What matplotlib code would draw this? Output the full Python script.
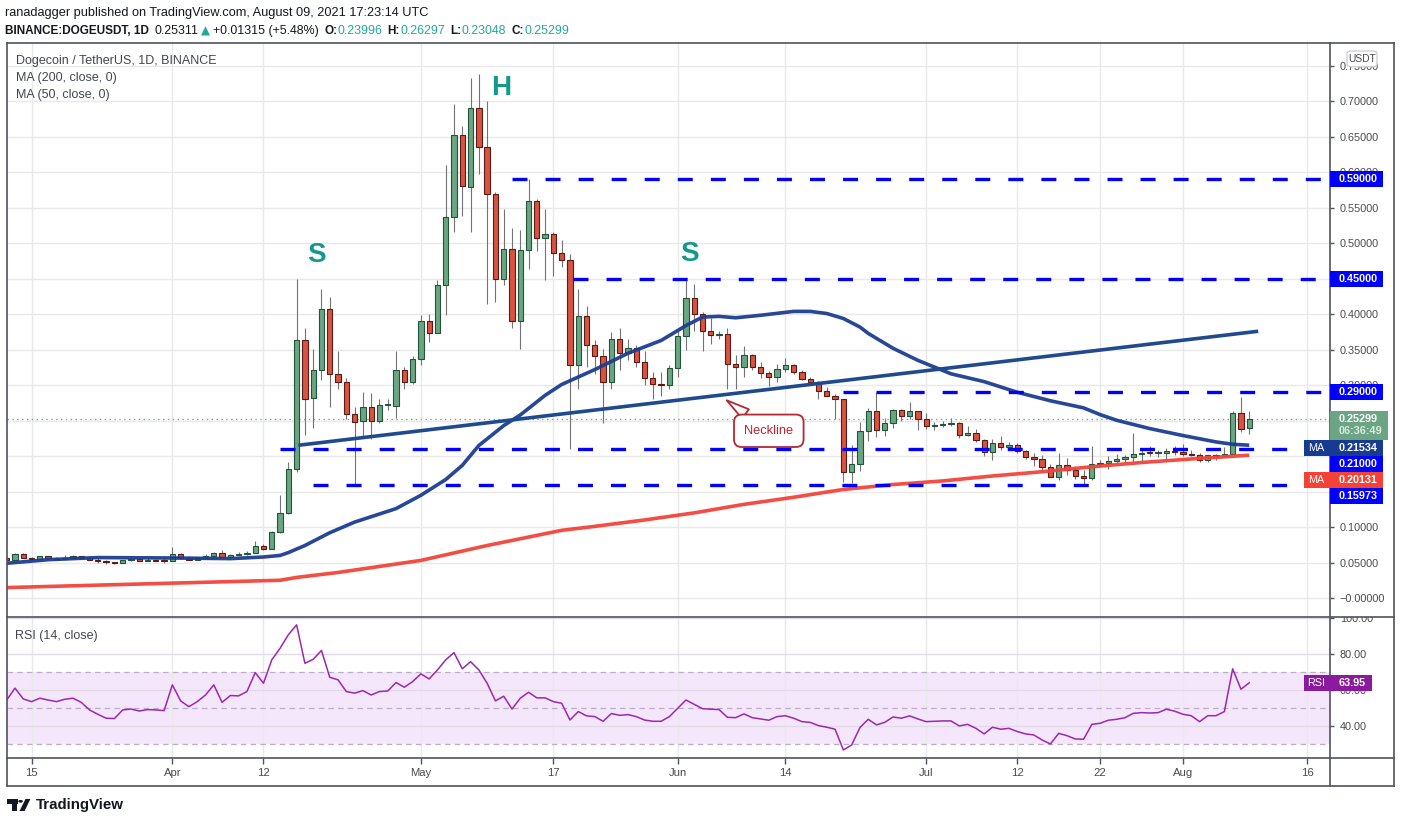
import numpy as np
import pandas as pd
import matplotlib
matplotlib.use('Agg')
import matplotlib.pyplot as plt
import matplotlib.dates as mdates
from matplotlib.patches import Rectangle, FancyBboxPatch, Polygon, Circle
from matplotlib.lines import Line2D

W, H = 1401, 823
BASE = ['Liberation Sans', 'DejaVu Sans']
plt.rcParams['font.family'] = BASE
plt.rcParams['lines.scale_dashes'] = False

# ---------------- data ----------------
dates = pd.date_range('2021-03-12', '2021-08-09', freq='D')

opens = [0.0560, 0.0535, 0.0626, 0.0570, 0.0552, 0.0587, 0.0564, 0.0555, 0.0570, 0.0587,
         0.0564, 0.0541, 0.0522, 0.0503, 0.0493, 0.0530, 0.0555, 0.0527, 0.0540, 0.0527,
         0.0522, 0.0616, 0.0570, 0.0541, 0.0570, 0.0598, 0.0640, 0.0578, 0.0611, 0.0616,
         0.0635, 0.0733, 0.0691, 0.0935, 0.1200, 0.1815, 0.3640, 0.2815, 0.3220, 0.4080,
         0.3160, 0.3050, 0.2600, 0.2490, 0.2690, 0.2500, 0.2718, 0.2710, 0.3220, 0.3040,
         0.3370, 0.3910, 0.3740, 0.4410, 0.5370, 0.6530, 0.5800, 0.6900, 0.6360, 0.5700,
         0.4500, 0.4925, 0.3910, 0.4900, 0.5590, 0.5075, 0.5137, 0.4860, 0.4760, 0.3290,
         0.3970, 0.3570, 0.3417, 0.3045, 0.3656, 0.3454, 0.3530, 0.3327, 0.3107, 0.3020,
         0.3008, 0.3248, 0.3700, 0.4234, 0.4010, 0.3760, 0.3710, 0.3715, 0.3300, 0.3250,
         0.3430, 0.3260, 0.3170, 0.3110, 0.3234, 0.3280, 0.3190, 0.3080, 0.3050, 0.2920,
         0.2853, 0.2800, 0.1776, 0.1894, 0.2350, 0.2630, 0.2373, 0.2460, 0.2646, 0.2566,
         0.2630, 0.2530, 0.2425, 0.2444, 0.2458, 0.2462, 0.2303, 0.2331, 0.2233, 0.2058,
         0.2190, 0.2134, 0.2152, 0.2078, 0.1988, 0.1960, 0.1847, 0.1706, 0.1870, 0.1810,
         0.1720, 0.1697, 0.1894, 0.1910, 0.1937, 0.1965, 0.1985, 0.2035, 0.2048, 0.2043,
         0.2046, 0.2078, 0.2060, 0.2027, 0.2010, 0.1940, 0.2011, 0.2000, 0.2035, 0.2613,
         0.23996]
highs = [0.0575, 0.0640, 0.0630, 0.0580, 0.0595, 0.0592, 0.0585, 0.0600, 0.0600, 0.0592,
         0.0570, 0.0565, 0.0530, 0.0510, 0.0535, 0.0560, 0.0560, 0.0565, 0.0555, 0.0565,
         0.0719, 0.0635, 0.0590, 0.0580, 0.0616, 0.0655, 0.0672, 0.0615, 0.0645, 0.0660,
         0.0804, 0.0760, 0.0950, 0.1450, 0.1920, 0.4490, 0.3810, 0.3510, 0.4350, 0.4240,
         0.3480, 0.3100, 0.2690, 0.2900, 0.2890, 0.2810, 0.2810, 0.3480, 0.3260, 0.3410,
         0.3990, 0.4010, 0.4480, 0.6110, 0.6970, 0.6650, 0.7330, 0.7390, 0.7000, 0.5720,
         0.5480, 0.5220, 0.5190, 0.5900, 0.5630, 0.5480, 0.5160, 0.5050, 0.4850, 0.4350,
         0.4120, 0.3630, 0.3510, 0.3750, 0.3800, 0.3650, 0.3560, 0.3480, 0.3190, 0.3190,
         0.3280, 0.3770, 0.4480, 0.4420, 0.4030, 0.3940, 0.3770, 0.3800, 0.3420, 0.3550,
         0.3440, 0.3330, 0.3200, 0.3300, 0.3380, 0.3300, 0.3210, 0.3110, 0.3060, 0.2970,
         0.2880, 0.2810, 0.2155, 0.2480, 0.2680, 0.2900, 0.2540, 0.2670, 0.2670, 0.2760,
         0.2640, 0.2610, 0.2480, 0.2500, 0.2540, 0.2480, 0.2420, 0.2380, 0.2240, 0.2240,
         0.2280, 0.2200, 0.2180, 0.2090, 0.2040, 0.2010, 0.1890, 0.2040, 0.1970, 0.1860,
         0.1810, 0.2138, 0.1950, 0.2000, 0.2030, 0.2010, 0.2330, 0.2096, 0.2137, 0.2090,
         0.2110, 0.2140, 0.2170, 0.2090, 0.2050, 0.2020, 0.2030, 0.2129, 0.2630, 0.2834,
         0.26297]
lows = [0.0525, 0.0530, 0.0560, 0.0545, 0.0548, 0.0560, 0.0550, 0.0548, 0.0565, 0.0560,
        0.0535, 0.0500, 0.0480, 0.0478, 0.0490, 0.0525, 0.0520, 0.0522, 0.0520, 0.0495,
        0.0515, 0.0565, 0.0535, 0.0535, 0.0565, 0.0595, 0.0570, 0.0575, 0.0600, 0.0605,
        0.0630, 0.0680, 0.0685, 0.0920, 0.1190, 0.1780, 0.2300, 0.2390, 0.3070, 0.2690,
        0.2950, 0.2530, 0.1580, 0.2270, 0.2240, 0.2460, 0.2650, 0.2540, 0.2950, 0.3020,
        0.3280, 0.3610, 0.3730, 0.3990, 0.5160, 0.5380, 0.5160, 0.5980, 0.4150, 0.4170,
        0.4410, 0.3810, 0.3510, 0.4640, 0.4890, 0.4480, 0.4540, 0.4660, 0.2106, 0.2940,
        0.3260, 0.3160, 0.2470, 0.2950, 0.3210, 0.3360, 0.3260, 0.3000, 0.2800, 0.2850,
        0.2940, 0.3110, 0.3500, 0.3760, 0.3480, 0.3580, 0.3650, 0.2950, 0.2940, 0.3120,
        0.3220, 0.3100, 0.2990, 0.3050, 0.3190, 0.3160, 0.3070, 0.3020, 0.2800, 0.2850,
        0.2530, 0.1630, 0.1620, 0.1790, 0.2220, 0.2270, 0.2290, 0.2390, 0.2490, 0.2520,
        0.2370, 0.2380, 0.2370, 0.2410, 0.2420, 0.2250, 0.2280, 0.2200, 0.2000, 0.1940,
        0.2080, 0.2090, 0.2050, 0.1960, 0.1860, 0.1780, 0.1700, 0.1660, 0.1740, 0.1680,
        0.1600, 0.1660, 0.1860, 0.1820, 0.1910, 0.1910, 0.1920, 0.1920, 0.2000, 0.1990,
        0.1950, 0.2010, 0.2000, 0.2000, 0.1920, 0.1920, 0.1940, 0.1990, 0.2030, 0.2340,
        0.23048]
closes = [0.0535, 0.0626, 0.0570, 0.0552, 0.0587, 0.0564, 0.0555, 0.0570, 0.0587, 0.0564,
          0.0541, 0.0522, 0.0503, 0.0493, 0.0530, 0.0555, 0.0527, 0.0540, 0.0527, 0.0522,
          0.0616, 0.0570, 0.0541, 0.0570, 0.0598, 0.0640, 0.0578, 0.0611, 0.0616, 0.0635,
          0.0733, 0.0691, 0.0935, 0.1200, 0.1815, 0.3640, 0.2810, 0.3220, 0.4080, 0.3160,
          0.3050, 0.2600, 0.2480, 0.2690, 0.2500, 0.2720, 0.2722, 0.3220, 0.3040, 0.3370,
          0.3910, 0.3740, 0.4410, 0.5370, 0.6530, 0.5810, 0.6900, 0.6360, 0.5700, 0.4500,
          0.4925, 0.3910, 0.4900, 0.5590, 0.5075, 0.5137, 0.4860, 0.4760, 0.3290, 0.3970,
          0.3570, 0.3417, 0.3045, 0.3656, 0.3454, 0.3530, 0.3327, 0.3107, 0.3020, 0.3008,
          0.3248, 0.3700, 0.4234, 0.4010, 0.3760, 0.3710, 0.3715, 0.3300, 0.3250, 0.3430,
          0.3260, 0.3170, 0.3110, 0.3234, 0.3280, 0.3190, 0.3080, 0.3050, 0.2920, 0.2853,
          0.2800, 0.1776, 0.1894, 0.2350, 0.2630, 0.2373, 0.2460, 0.2646, 0.2566, 0.2630,
          0.2530, 0.2425, 0.2444, 0.2458, 0.2462, 0.2303, 0.2331, 0.2233, 0.2058, 0.2190,
          0.2134, 0.2152, 0.2078, 0.1988, 0.1960, 0.1847, 0.1706, 0.1870, 0.1810, 0.1720,
          0.1697, 0.1894, 0.1910, 0.1937, 0.1965, 0.1985, 0.2035, 0.2048, 0.2043, 0.2046,
          0.2078, 0.2060, 0.2027, 0.2010, 0.1940, 0.2011, 0.2000, 0.2035, 0.2613, 0.2388,
          0.25299]

rsi_values = [54.4, 61.0, 55.0, 53.5, 55.4, 54.4, 53.5, 54.8, 55.4, 53.1,
              48.9, 46.5, 44.3, 44.1, 48.9, 49.4, 48.3, 49.1, 48.9, 48.5,
              62.8, 53.9, 50.7, 53.5, 57.2, 62.8, 53.1, 56.9, 56.7, 59.1,
              69.6, 63.7, 76.7, 83.1, 90.6, 96.1, 74.8, 77.0, 81.9, 67.0,
              65.6, 59.1, 58.2, 59.6, 57.2, 59.1, 59.4, 64.1, 61.5, 64.6,
              68.9, 66.1, 71.1, 76.7, 80.7, 71.7, 75.7, 71.1, 63.7, 53.9,
              56.5, 49.4, 55.4, 58.7, 55.6, 55.6, 53.5, 52.6, 43.3, 48.0,
              45.6, 45.2, 42.6, 46.9, 45.9, 46.3, 45.2, 43.3, 42.6, 42.6,
              45.2, 49.8, 54.4, 52.0, 49.6, 49.3, 49.1, 44.8, 44.6, 46.7,
              44.6, 43.9, 43.2, 45.2, 45.7, 44.3, 42.4, 42.0, 40.2, 39.3,
              38.2, 26.7, 29.4, 39.1, 43.7, 40.6, 42.0, 45.0, 44.3, 45.6,
              43.9, 42.4, 42.6, 42.8, 42.8, 40.0, 40.9, 38.7, 35.6, 39.3,
              38.2, 38.7, 36.9, 35.6, 35.0, 32.2, 30.0, 35.9, 34.6, 32.8,
              32.6, 40.9, 41.5, 43.2, 43.7, 44.6, 47.0, 47.4, 47.2, 47.4,
              49.3, 48.2, 46.5, 45.7, 42.4, 45.7, 45.7, 48.0, 71.7, 60.4,
              63.95]

ma50_dates = ['2021-03-12', '2021-03-17', '2021-03-23', '2021-04-01', '2021-04-08', '2021-04-12',
              '2021-04-14', '2021-04-15', '2021-04-17', '2021-04-20', '2021-04-23', '2021-04-28',
              '2021-05-01', '2021-05-04',
              '2021-05-06', '2021-05-08', '2021-05-11', '2021-05-13', '2021-05-16', '2021-05-18',
              '2021-05-22', '2021-05-26', '2021-05-30', '2021-06-01', '2021-06-02', '2021-06-04',
              '2021-06-06', '2021-06-08', '2021-06-11', '2021-06-15', '2021-06-17', '2021-06-19',
              '2021-06-21', '2021-06-23', '2021-06-24', '2021-06-27', '2021-06-30', '2021-07-04',
              '2021-07-08', '2021-07-12', '2021-07-16', '2021-07-20', '2021-07-22', '2021-07-24',
              '2021-07-28', '2021-08-01', '2021-08-05', '2021-08-07', '2021-08-09']
ma50_values = [0.049, 0.054, 0.057, 0.0564, 0.0555, 0.0578,
               0.0600, 0.0640, 0.074, 0.092, 0.107, 0.126,
               0.1448, 0.167,
               0.187, 0.215, 0.243, 0.258, 0.2857, 0.301,
               0.322, 0.345, 0.363, 0.377, 0.384, 0.396,
               0.397, 0.395, 0.3985, 0.404, 0.404, 0.401,
               0.394, 0.382, 0.373, 0.352, 0.335, 0.316,
               0.305, 0.290, 0.278, 0.268, 0.2585, 0.2505,
               0.2388, 0.229, 0.220, 0.2167, 0.21534]

ma200_dates = ['2021-03-12', '2021-04-14', '2021-04-16', '2021-04-21', '2021-05-01', '2021-05-09',
               '2021-05-18', '2021-05-22', '2021-05-28', '2021-06-03', '2021-06-09', '2021-06-15',
               '2021-06-21', '2021-06-27', '2021-07-03', '2021-07-09', '2021-07-15', '2021-07-21',
               '2021-07-27', '2021-08-02', '2021-08-09']
ma200_values = [0.0147, 0.025, 0.029, 0.036, 0.053, 0.074,
                0.0954, 0.101, 0.110, 0.120, 0.132, 0.142,
                0.153, 0.160, 0.165, 0.172, 0.178, 0.185,
                0.191, 0.196, 0.20131]

neck_dates = ['2021-04-16 05:00', '2021-08-10 02:00']
neck_values = [0.2153, 0.376]

level_values = [0.59, 0.45, 0.29, 0.21, 0.15973]
level_starts = ['2021-05-12', '2021-05-19 09:00', '2021-06-21', '2021-04-14', '2021-04-18']

pattern_labels = ['S', 'H', 'S']
pattern_dates = ['2021-04-18 10:00', '2021-05-10 17:00', '2021-06-02 10:00']
pattern_prices = [0.483, 0.7185, 0.4852]

# tick labels of 0.15, 0.20 and 0.25 sit fully under price tags in the reference
price_ticks = [0.00, 0.05, 0.10, 0.30, 0.35, 0.40, 0.45, 0.50, 0.55, 0.60, 0.65, 0.70, 0.75]
price_grid = [0.00, 0.05, 0.10, 0.15, 0.20, 0.25, 0.30, 0.35, 0.40, 0.45, 0.50, 0.55, 0.60, 0.65, 0.70, 0.75]
rsi_ticks = [40, 60, 80, 100]
tick_dates = ['2021-03-15', '2021-04-01', '2021-04-12', '2021-05-01', '2021-05-17', '2021-06-01',
              '2021-06-14', '2021-07-01', '2021-07-12', '2021-07-22', '2021-08-01', '2021-08-16']
tick_labels = ['15', 'Apr', '12', 'May', '17', 'Jun', '14', 'Jul', '12', '22', 'Aug', '16']

last_price = 0.25299

# ---------------- styling ----------------
UP, UP_E = '#6ba583', '#225437'
DN, DN_E = '#d75442', '#5b1a13'
WICK = '#737375'
GRID = '#e9e9ea'
FRAME = '#50535e'
TXT = '#4a4a4a'
LEVEL = '#0000ff'
MA50C = '#1c3d92'
MA200C = '#f4433a'
TEAL = '#12998a'
FS = 7.8

fig = plt.figure(figsize=(W / 100, H / 100), dpi=100)
fig.patch.set_facecolor('white')

def fx(x):
    return x / W

def fy(y):
    return 1 - y / H

L, R = 6.7, 1330.0
T1, B1 = 43.3, 617.3
B2 = 758.3
B3 = 786.0
RB = 1394.0

ax = fig.add_axes([fx(L), fy(B1), (R - L) / W, (B1 - T1) / H])
ax2 = fig.add_axes([fx(L), fy(B2), (R - L) / W, (B2 - B1) / H])

x = mdates.date2num(dates)
xlim = (mdates.date2num(pd.Timestamp('2021-03-12')), mdates.date2num(pd.Timestamp('2021-08-18 18:00')))
xt = mdates.date2num(pd.to_datetime(tick_dates))

for a in (ax, ax2):
    a.set_xlim(*xlim)
    for s in a.spines.values():
        s.set_visible(False)
    a.set_xticks(xt)
    a.grid(True, axis='x', color=GRID, lw=1.0, zorder=0)
    a.set_axisbelow(True)

ax.set_ylim(-0.0272, 0.7819)
ax2.set_ylim(22.06, 100.3)

for g in price_grid:
    ax.axhline(g, color=GRID, lw=1.0, zorder=0)

ax.yaxis.tick_right()
ax.set_yticks(price_ticks)
ax.set_yticklabels(['\u22120.00000' if v == 0 else f'{v:.5f}' for v in price_ticks])
ax.tick_params(axis='y', length=3, width=1, color=FRAME, pad=4, labelsize=FS, labelcolor=TXT)
ax.tick_params(axis='x', length=0, labelbottom=False)

ax2.yaxis.tick_right()
ax2.set_yticks(rsi_ticks)
ax2.set_yticklabels([f'{v:.2f}' for v in rsi_ticks])
ax2.tick_params(axis='y', length=3, width=1, color=FRAME, pad=4, labelsize=FS, labelcolor=TXT)
ax2.set_xticklabels(tick_labels)
ax2.tick_params(axis='x', length=4, width=1, color=FRAME, pad=3, labelsize=FS + 0.3, labelcolor=TXT,
                direction='out')
ax2.grid(True, axis='y', color='#e2dbe6', lw=1.0, zorder=0)

# ---------------- candles ----------------
o = np.array(opens); h = np.array(highs); l = np.array(lows); c = np.array(closes)
up = c >= o
ax.vlines(x, l, h, color=WICK, lw=0.8, zorder=2)
body_b = np.minimum(o, c)
body_h = np.maximum(np.abs(c - o), 0.0012)
ax.bar(x[up], body_h[up], bottom=body_b[up], width=0.64, color=UP, edgecolor=UP_E, lw=0.8, zorder=3)
ax.bar(x[~up], body_h[~up], bottom=body_b[~up], width=0.64, color=DN, edgecolor=DN_E, lw=0.8, zorder=3)

# moving averages
ax.plot(mdates.date2num(pd.to_datetime(ma200_dates)), ma200_values, color=MA200C, lw=2.6, alpha=0.95,
        solid_capstyle='butt', solid_joinstyle='round', zorder=4)
ax.plot(mdates.date2num(pd.to_datetime(ma50_dates)), ma50_values, color=MA50C, lw=2.6, alpha=0.95,
        solid_capstyle='butt', solid_joinstyle='round', zorder=4)

# neckline
ax.plot(mdates.date2num(pd.to_datetime(neck_dates)), neck_values, color='#1f4a8e', lw=2.6,
        solid_capstyle='butt', zorder=4)

# horizontal levels
for v, s in zip(level_values, level_starts):
    ax.plot([mdates.date2num(pd.Timestamp(s)), xlim[1]], [v, v], color=LEVEL, lw=2.4,
            dashes=(10.8, 13.0), zorder=4, solid_capstyle='butt', dash_capstyle='butt')

# current price dotted
ax.axhline(last_price, color=UP, lw=0.9, ls=(0, (1, 2.5)), zorder=1)

# pattern letters
for t, d, p in zip(pattern_labels, pattern_dates, pattern_prices):
    ax.text(mdates.date2num(pd.Timestamp(d)), p, t, color=TEAL, fontsize=20, fontweight='bold',
            ha='center', va='center', zorder=6)

# neckline callout
ax.annotate('Neckline', xy=(mdates.date2num(pd.Timestamp('2021-06-06 22:00')), 0.2787),
            xytext=(mdates.date2num(pd.Timestamp('2021-06-12')), 0.2357),
            ha='center', va='center', fontsize=9.2, color='#b22833', zorder=7,
            bbox=dict(boxstyle='round,pad=0.8,rounding_size=0.6', fc='white', ec='#b22833', lw=1.3),
            arrowprops=dict(arrowstyle='wedge,tail_width=0.9,shrink_factor=0.5', fc='white',
                            ec='#b22833', lw=1.3, shrinkA=0, shrinkB=0))

# ---------------- RSI ----------------
ax2.axhspan(30, 70, color='#f4e7fc', zorder=0, lw=0)
for lvl in (70, 50, 30):
    ax2.axhline(lvl, color='#bcaec6', lw=0.9, ls=(0, (4, 3)), zorder=1)
ax2.plot(x, rsi_values, color='#9c27b0', lw=1.1, zorder=3)

# ---------------- frame ----------------
def fline(xs, ys, lw=1.2, color=FRAME):
    fig.add_artist(Line2D([fx(v) for v in xs], [fy(v) for v in ys], transform=fig.transFigure,
                          color=color, lw=lw, zorder=20))

# hide the upper half of the 100.00 label like the reference
fig.add_artist(Rectangle((fx(1331), fy(617.3)), 62 / W, 9 / H, transform=fig.transFigure,
                         fc='white', ec='none', zorder=15))

fline([L, RB], [T1, T1])
fline([L, RB], [B1, B1])
fline([L, RB], [B2, B2])
fline([L, RB], [B3, B3])
fline([L, L], [T1, B3])
fline([R, R], [T1, B3])
fline([RB, RB], [T1, B3])

# ---------------- tags ----------------
def pix_y(axis, val):
    return H - axis.transData.transform((xlim[0], val))[1]

def tag_box(x0, x1, y0, y1, color):
    fig.add_artist(Rectangle((fx(x0), fy(y1)), (x1 - x0) / W, (y1 - y0) / H, transform=fig.transFigure,
                             fc=color, ec='none', zorder=25))

def tag_text(xp, yp, s, color='white', ha='left', weight='bold', size=FS):
    fig.text(fx(xp), fy(yp), s, color=color, ha=ha, va='center', fontsize=size, fontweight=weight,
             zorder=26)

tags = [
    (0.59, '0.59000', LEVEL, None, 1383, 1),
    (0.45, '0.45000', LEVEL, None, 1383, 1),
    (0.29, '0.29000', LEVEL, None, 1383, 1),
    (last_price, '0.25299', UP, None, 1388, 2),
    (0.21534, '0.21534', '#173b8f', 'MA', 1383, 1),
    (0.21, '0.21000', LEVEL, None, 1383, 1),
    (0.20131, '0.20131', '#f44336', 'MA', 1383, 1),
    (0.15973, '0.15973', LEVEL, None, 1383, 1),
]
TH = 16.0
prev_bottom = -1e9
for val, txt, col, side, x1, nl in tags:
    yc = pix_y(ax, val)
    top = max(yc - TH / 2, prev_bottom)
    bottom = top + TH + (nl - 1) * 13.3
    tag_box(R, x1, top, bottom, col)
    tag_text(1339, top + TH / 2, txt)
    if nl == 2:
        tag_text(1339, top + TH / 2 + 12.8, '06:36:49', color='#d9ecdf')
    if side:
        tag_box(1304, R - 0.5, top, bottom, col)
        tag_text(1316.5, top + TH / 2, side, ha='center', weight='normal')
    prev_bottom = bottom

yr = pix_y(ax2, rsi_values[-1])
tag_box(R, 1372, yr - 8, yr + 8, '#8b1a9d')
tag_text(1339, yr, f'{rsi_values[-1]:.2f}')
tag_box(1304, R - 0.5, yr - 8, yr + 8, '#8b1a9d')
tag_text(1316.5, yr, 'RSI', ha='center', weight='normal')

# USDT box
fig.add_artist(FancyBboxPatch((fx(1347), fy(66.7)), 30 / W, 15.7 / H, boxstyle='round,pad=0,rounding_size=0.003',
                              transform=fig.transFigure, fc='white', ec='#c9ccd4', lw=0.9, zorder=25))
fig.text(fx(1362), fy(59), 'USDT', ha='center', va='center', fontsize=7.4, color=TXT, zorder=26)

# ---------------- legend texts ----------------
LEG = '#434651'
fig.text(fx(15.5), fy(61), 'Dogecoin / TetherUS, 1D, BINANCE', fontsize=9, color=LEG, va='center')
fig.text(fx(15.5), fy(78.3), 'MA (200, close, 0)', fontsize=9, color=LEG, va='center')
fig.text(fx(15.5), fy(95), 'MA (50, close, 0)', fontsize=9, color=LEG, va='center')
fig.text(fx(15.3), fy(635.7), 'RSI (14, close)', fontsize=9, color=LEG, va='center')

# ---------------- header ----------------
DARK = '#131722'
VALC = '#26a69a'
fig.text(fx(5.4), fy(13.3), 'ranadagger published on TradingView.com, August 09, 2021 17:23:14 UTC',
         fontsize=9.2, color=DARK, va='center')

renderer = fig.canvas.get_renderer()
segs = [('BINANCE:DOGEUSDT, 1D', 'bold', DARK, 0),
        ('0.25311', 'normal', DARK, 5),
        ('\u25b2', 'normal', VALC, 3),
        ('+0.01315 (+5.48%)', 'normal', DARK, 3),
        ('O:', 'bold', DARK, 5), ('0.23996', 'normal', VALC, 0.5),
        ('H:', 'bold', DARK, 5), ('0.26297', 'normal', VALC, 0.5),
        ('L:', 'bold', DARK, 5), ('0.23048', 'normal', VALC, 0.5),
        ('C:', 'bold', DARK, 5), ('0.25299', 'normal', VALC, 0.5)]
xc = 5.4
for s, wgt, col, gap in segs:
    xc += gap
    fam = ['DejaVu Sans'] if s == '\u25b2' else BASE
    size = 8.5 if s == '\u25b2' else (8.5 if wgt == 'bold' else 8.9)
    t = fig.text(fx(xc), fy(31), s, fontsize=size, fontweight=wgt, color=col,
                 va='center', ha='left', family=fam)
    bb = t.get_window_extent(renderer)
    xc = bb.x1

# ---------------- TradingView logo ----------------
LOGO = '#131722'
fig.add_artist(Rectangle((fx(6.7), fy(803.5)), 11 / W, 4.5 / H, transform=fig.transFigure, fc=LOGO, ec='none'))
fig.add_artist(Rectangle((fx(12.3), fy(811)), 5 / W, 12 / H, transform=fig.transFigure, fc=LOGO, ec='none'))
fig.add_artist(Circle((fx(20.6), fy(801.3)), 2.3 / W, transform=fig.transFigure, fc=LOGO, ec='none'))
fig.add_artist(Polygon([(fx(19.5), fy(811)), (fx(25.5), fy(799)), (fx(30.4), fy(799)), (fx(24.6), fy(811))],
                       closed=True, transform=fig.transFigure, fc=LOGO, ec='none'))
fig.text(fx(35.5), fy(805.5), 'TradingView', fontsize=10.8, fontweight='bold', color=LOGO, va='center')

fig.savefig('out.png', dpi=100)
